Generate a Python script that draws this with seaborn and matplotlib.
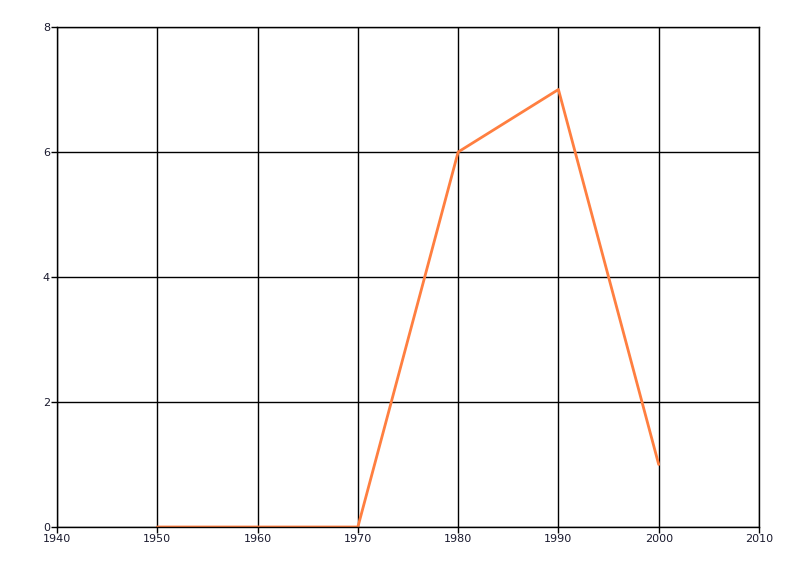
import matplotlib
matplotlib.use("Agg")
import matplotlib.pyplot as plt
import seaborn as sns
import pandas as pd

years = [1950, 1960, 1970, 1980, 1990, 2000]
values = [0, 0, 0, 6, 7, 1]

df = pd.DataFrame({"year": years, "value": values})

sns.set_theme(style="white")
plt.rcParams['font.family'] = ['DejaVu Sans']

fig = plt.figure(figsize=(8, 5.76), dpi=100)
ax = fig.add_axes([57 / 800, 1 - 527 / 576, (759 - 57) / 800, (527 - 27) / 576])

sns.lineplot(data=df, x="year", y="value", color="#FF7F40", linewidth=2, ax=ax)

ax.set_xlim(1940, 2010)
ax.set_ylim(0, 8)
ax.set_xticks(range(1940, 2011, 10))
ax.set_yticks(range(0, 9, 2))
ax.grid(True, color="black", linewidth=1)
ax.set_axisbelow(True)
for s in ["top", "right", "left", "bottom"]:
    ax.spines[s].set_visible(True)
    ax.spines[s].set_color("black")
    ax.spines[s].set_linewidth(1)
ax.tick_params(axis="both", which="major", direction="out", length=4, width=1,
               color="black", labelsize=8, labelcolor="#1a1a2e", pad=1,
               left=True, bottom=True, top=False, right=False)
ax.set_xlabel("")
ax.set_ylabel("")

fig.savefig("out.png", dpi=100)
